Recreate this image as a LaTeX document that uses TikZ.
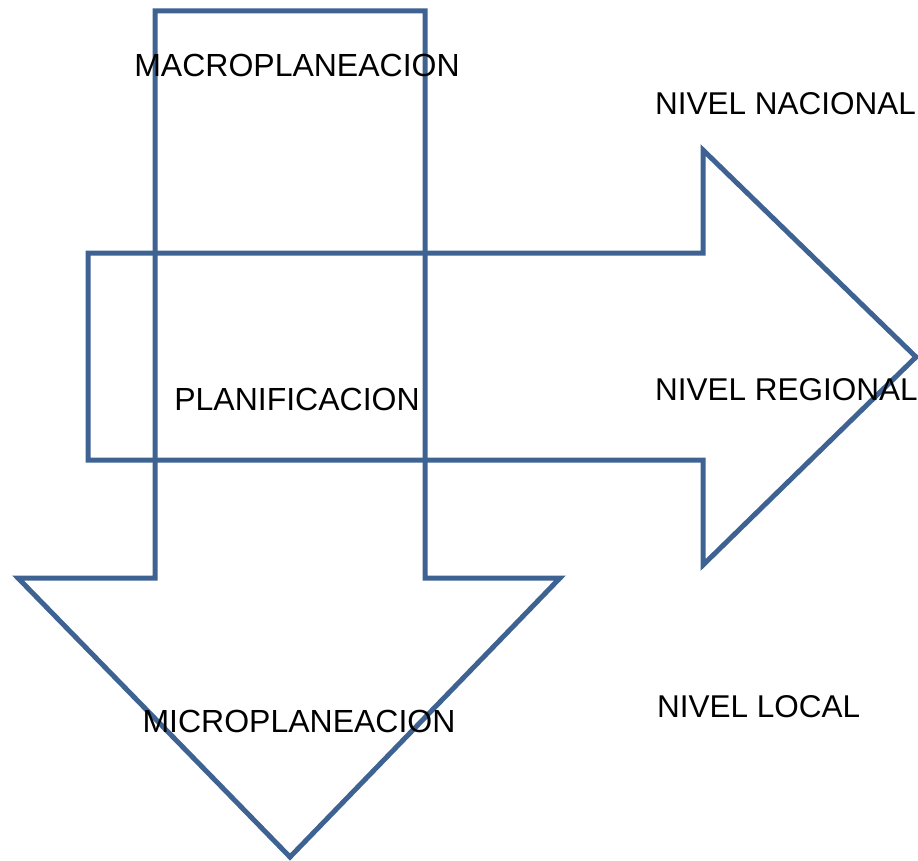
\documentclass[tikz,border=0pt]{standalone}
\usepackage{fontspec}
\setmainfont{Liberation Sans}
\definecolor{arrowblue}{RGB}{62,99,146}
\tikzset{
  arrowoutline/.style={draw=arrowblue, line width=5pt, line join=miter, miter limit=10},
  lbl/.style={anchor=base west, inner sep=0pt, font=\fontsize{31.5}{36}\selectfont},
  lblc/.style={anchor=base, inner sep=0pt, font=\fontsize{32}{36}\selectfont}
}
\begin{document}
\begin{tikzpicture}[x=1pt,y=-1pt]
\useasboundingbox (0,0) rectangle (918,861);
% down arrow
\draw[arrowoutline] (155,11) -- (425,11) -- (425,578) -- (560,578) -- (290,857)
  -- (18,578) -- (155,578) -- cycle;
% right arrow
\draw[arrowoutline] (88,253) -- (703,253) -- (703,150) -- (916,357) -- (703,565)
  -- (703,460) -- (88,460) -- cycle;
% labels
\node[lblc] (macro) at (297,77) {MACROPLANEACION};
\node[lblc] (plan) at (297,410) {PLANIFICACION};
\node[lblc] (micro) at (299,732) {MICROPLANEACION};
\node[lbl] (nac) at (655,115) {NIVEL NACIONAL};
\node[lbl] (reg) at (655,400) {NIVEL REGIONAL};
\node[lbl] (loc) at (657,717) {NIVEL LOCAL};
\end{tikzpicture}
\end{document}
